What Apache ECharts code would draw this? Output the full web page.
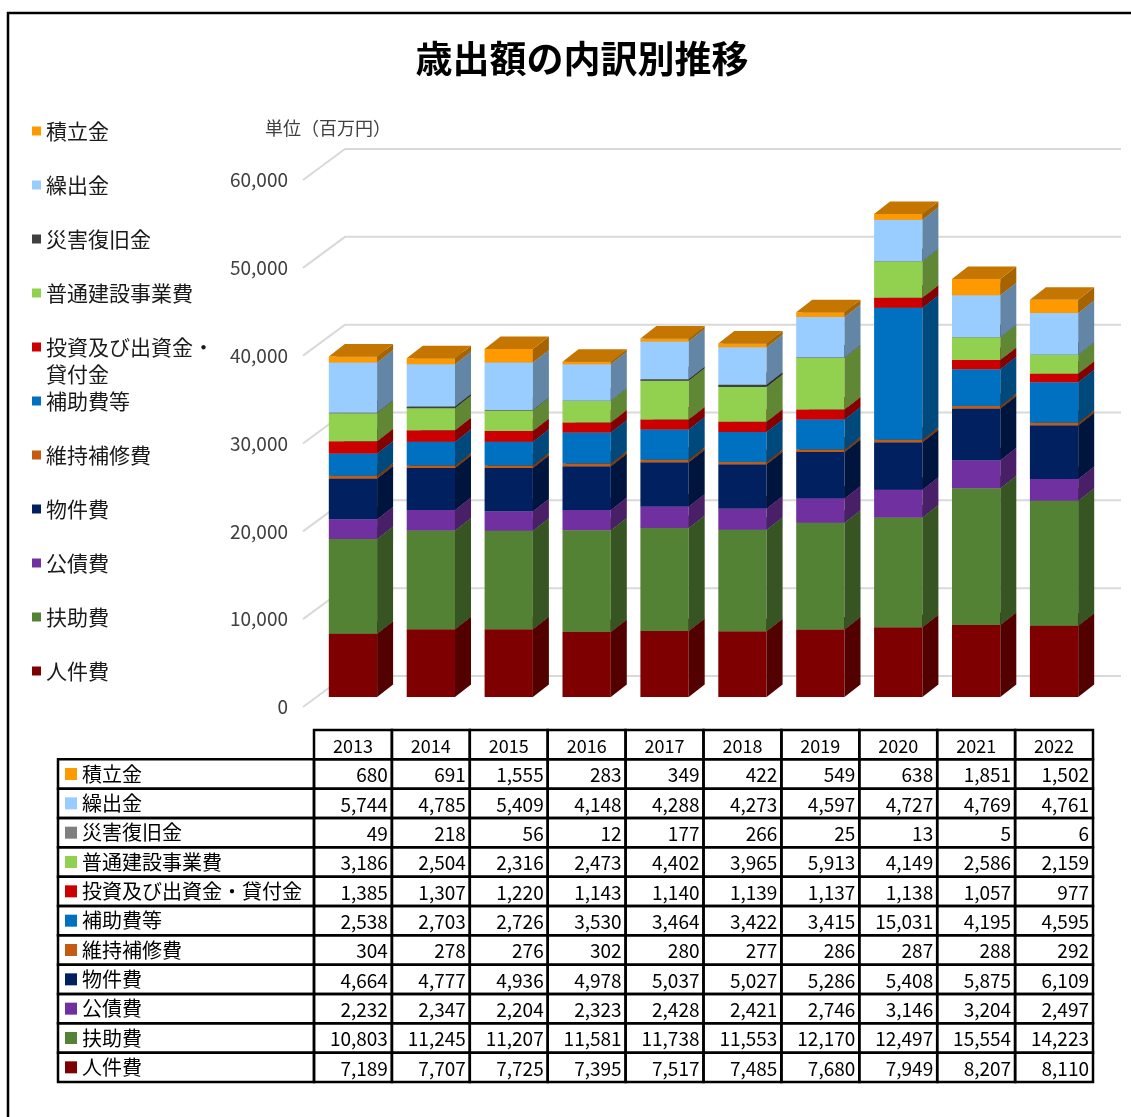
<!DOCTYPE html>
<html><head><meta charset="utf-8">
<script src="https://cdn.jsdelivr.net/npm/echarts@6/dist/echarts.min.js"></script>
<style>html,body{margin:0;padding:0;background:#fff}#c{width:1131px;height:1117px}</style>
</head><body><div id="c"></div>
<script>
// ---- data ----
const years = ['2013','2014','2015','2016','2017','2018','2019','2020','2021','2022'];
const jinkenhi      = [7189, 7707, 7725, 7395, 7517, 7485, 7680, 7949, 8207, 8110];   // 人件費
const fujohi        = [10803, 11245, 11207, 11581, 11738, 11553, 12170, 12497, 15554, 14223]; // 扶助費
const kousaihi      = [2232, 2347, 2204, 2323, 2428, 2421, 2746, 3146, 3204, 2497];   // 公債費
const bukkenhi      = [4664, 4777, 4936, 4978, 5037, 5027, 5286, 5408, 5875, 6109];   // 物件費
const ijihoshuhi    = [304, 278, 276, 302, 280, 277, 286, 287, 288, 292];             // 維持補修費
const hojohi        = [2538, 2703, 2726, 3530, 3464, 3422, 3415, 15031, 4195, 4595];  // 補助費等
const toushi        = [1385, 1307, 1220, 1143, 1140, 1139, 1137, 1138, 1057, 977];    // 投資及び出資金・貸付金
const futsuKensetsu = [3186, 2504, 2316, 2473, 4402, 3965, 5913, 4149, 2586, 2159];   // 普通建設事業費
const saigai        = [49, 218, 56, 12, 177, 266, 25, 13, 5, 6];                      // 災害復旧金
const kuridashi     = [5744, 4785, 5409, 4148, 4288, 4273, 4597, 4727, 4769, 4761];   // 繰出金
const tsumitate     = [680, 691, 1555, 283, 349, 422, 549, 638, 1851, 1502];          // 積立金
const yTicks = [0, 10000, 20000, 30000, 40000, 50000, 60000];

const seriesNames = ['人件費','扶助費','公債費','物件費','維持補修費','補助費等','投資及び出資金・貸付金','普通建設事業費','災害復旧金','繰出金','積立金'];
const seriesValues = [jinkenhi, fujohi, kousaihi, bukkenhi, ijihoshuhi, hojohi, toushi, futsuKensetsu, saigai, kuridashi, tsumitate];
const seriesColors = ['#7F0000','#548235','#7030A0','#002060','#C55A11','#0070C0','#CC0000','#92D050','#404040','#99CCFF','#FF9900'];
const tableMarkerColors = ['#7F0000','#548235','#7030A0','#002060','#C55A11','#0070C0','#CC0000','#92D050','#7F7F7F','#99CCFF','#FF9900'];

const FONT = '"Noto Sans CJK JP", "Noto Sans", sans-serif';

function shade(hex, f) {
  const n = parseInt(hex.slice(1), 16);
  const r = Math.round(((n >> 16) & 255) * f), g = Math.round(((n >> 8) & 255) * f), b = Math.round((n & 255) * f);
  return 'rgb(' + r + ',' + g + ',' + b + ')';
}

// ---- bars (3D-look boxes) ----
const DX = 16, DY = -12.5;
function makeBarRender(color) {
  const side = shade(color, 0.65), top = shade(color, 0.77);
  return function (params, api) {
    const i = api.value(0), b = api.value(1), t = api.value(2);
    const pT = api.coord([i, t]), pB = api.coord([i, b]);
    const w = api.size([1, 0])[0] * 0.62;
    const x0 = pT[0] - w / 2, x1 = pT[0] + w / 2, yT = pT[1], yB = pB[1];
    return {
      type: 'group',
      children: [
        { type: 'rect', shape: { x: x0, y: yT, width: w, height: yB - yT }, style: { fill: color } },
        { type: 'polygon', shape: { points: [[x1, yB], [x1 + DX, yB + DY], [x1 + DX, yT + DY], [x1, yT]] }, style: { fill: side } },
        { type: 'polygon', shape: { points: [[x0, yT], [x1, yT], [x1 + DX, yT + DY], [x0 + DX, yT + DY]] }, style: { fill: top } }
      ]
    };
  };
}

const base = years.map(() => 0);
const barSeries = seriesNames.map((name, s) => {
  const data = years.map((y, i) => {
    const b = base[i];
    base[i] += seriesValues[s][i];
    return [i, b, base[i]];
  });
  return {
    name: name, type: 'custom', xAxisIndex: 0, yAxisIndex: 0, z: 3,
    itemStyle: { color: seriesColors[s] },
    encode: { x: 0, y: 2 },
    renderItem: makeBarRender(seriesColors[s]),
    data: data
  };
});

// ---- gridlines with depth ----
const gridSeries = {
  type: 'custom', xAxisIndex: 0, yAxisIndex: 0, z: 1, silent: true,
  encode: { x: 0, y: 1 },
  data: yTicks.map(v => [0, v]),
  renderItem: function (params, api) {
    const cs = params.coordSys;
    const y = api.coord([0, api.value(1)])[1];
    return {
      type: 'polyline',
      shape: { points: [[cs.x - 11, y + 10], [cs.x + 31, y - 21], [cs.x + cs.width + 28, y - 21]] },
      style: { stroke: '#D9D9D9', lineWidth: 2, fill: null }
    };
  }
};

// ---- table ----
const tableRowNames = seriesNames.slice().reverse();
const tableRowValues = seriesValues.slice().reverse();
const tableMarkers = tableMarkerColors.slice().reverse();
const tableData = [];
years.forEach((y, c) => tableData.push([c, 0, 0]));
tableRowValues.forEach((vals, r) => vals.forEach((v, c) => tableData.push([c, r + 1, v])));

const tableSeries = {
  type: 'custom', xAxisIndex: 1, yAxisIndex: 1, z: 2, silent: true,
  encode: { x: 0, y: 1 },
  data: tableData,
  renderItem: function (params, api) {
    const c = api.value(0), r = api.value(1), v = api.value(2);
    const p = api.coord([c, r]);
    const sz = api.size([1, 1]);
    const w = sz[0], h = sz[1];
    const x0 = p[0] - w / 2, y0 = p[1] - h / 2;
    const children = [];
    if (c === 0 && r > 0) {
      children.push({ type: 'rect', shape: { x: 58, y: y0, width: x0 - 58, height: h }, style: { fill: 'none', stroke: '#000', lineWidth: 2.5 } });
    }
    children.push({ type: 'rect', shape: { x: x0, y: y0, width: w, height: h }, style: { fill: 'none', stroke: '#000', lineWidth: 2.5 } });
    if (r === 0) {
      children.push({ type: 'text', style: { text: years[c], x: p[0], y: p[1] + 1, align: 'center', verticalAlign: 'middle', fontSize: 18, fontFamily: FONT, fill: '#000' } });
    } else {
      children.push({ type: 'text', style: { text: v.toLocaleString('en-US'), x: x0 + w - 4, y: p[1] + 1, align: 'right', verticalAlign: 'middle', fontSize: 19, fontFamily: FONT, fill: '#000' } });
    }
    return { type: 'group', children: children };
  }
};

const rowRich = { t: { fontSize: 20, fontFamily: FONT, color: '#000', padding: [0, 0, 0, 5] } };
tableMarkers.forEach((col, i) => { rowRich['m' + (i + 1)] = { width: 12, height: 12, backgroundColor: col }; });

const chart = echarts.init(document.getElementById('c'));
chart.setOption({
  backgroundColor: '#fff',
  animation: false,
  title: {
    text: '歳出額の内訳別推移', left: 577, top: 35, textAlign: 'center',
    textStyle: { fontSize: 37, fontWeight: 'bold', fontFamily: FONT, color: '#000' }
  },
  legend: {
    orient: 'vertical', left: 32, top: 119, padding: 0, itemGap: 30, itemWidth: 9, itemHeight: 9, icon: 'rect',
    selectedMode: false,
    data: seriesNames.slice().reverse(),
    formatter: n => n === '投資及び出資金・貸付金' ? '投資及び出資金・' : n,
    textStyle: { fontSize: 21, lineHeight: 24, fontFamily: FONT, color: '#1a1a1a' }
  },
  graphic: [
    { type: 'text', left: 46, top: 364, style: { text: '貸付金', fontSize: 21, fontFamily: FONT, fill: '#1a1a1a' } },
    { type: 'text', left: 265, top: 119, style: { text: '単位（百万円）', fontSize: 18, fontFamily: FONT, fill: '#404040' } },
    { type: 'rect', shape: { x: 8, y: 13, width: 1300, height: 1300 }, style: { fill: 'none', stroke: '#000', lineWidth: 2.5 }, z: 10 }
  ],
  grid: [
    { left: 314, width: 779, top: 170, height: 527 },
    { left: 314, width: 779, top: 730, height: 352 }
  ],
  xAxis: [
    { type: 'category', gridIndex: 0, data: years, show: false },
    { type: 'category', gridIndex: 1, data: years, show: false }
  ],
  yAxis: [
    {
      type: 'value', gridIndex: 0, min: 0, max: 60000, interval: 10000,
      axisLine: { show: false }, axisTick: { show: false }, splitLine: { show: false },
      axisLabel: { formatter: v => v.toLocaleString('en-US'), fontSize: 19, fontFamily: FONT, color: '#404040', margin: 26, verticalAlign: 'top', lineHeight: 20 }
    },
    {
      type: 'category', gridIndex: 1, inverse: true, data: [''].concat(tableRowNames),
      axisLine: { show: false }, axisTick: { show: false }, splitLine: { show: false },
      axisLabel: {
        interval: 0, align: 'left', margin: 249,
        formatter: (v, i) => i === 0 ? '' : '{m' + i + '|}{t|' + v + '}',
        rich: rowRich
      }
    }
  ],
  series: [gridSeries].concat(barSeries).concat([tableSeries])
});
</script></body></html>
